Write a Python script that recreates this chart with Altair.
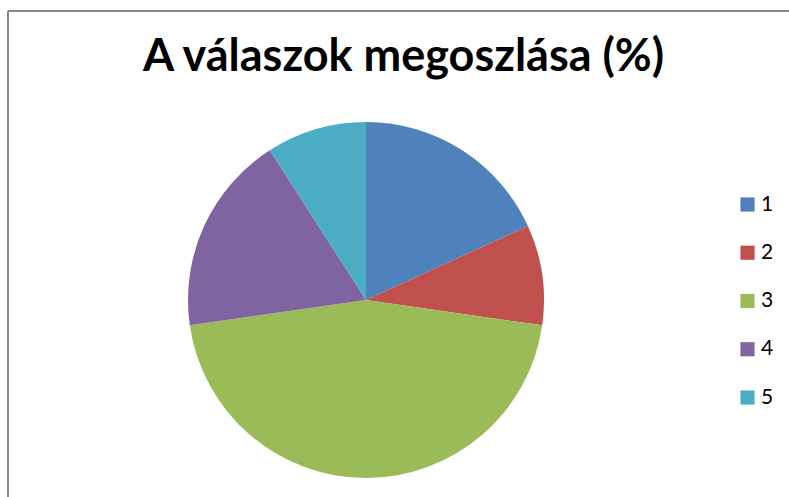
import altair as alt
import pandas as pd

categories = ["1", "2", "3", "4", "5"]
values = [18.18, 9.09, 45.45, 18.18, 9.09]
colors = ["#4F81BD", "#C0504D", "#9BBB59", "#8064A2", "#4BACC6"]

df = pd.DataFrame({"cat": categories, "val": values, "order": list(range(len(categories)))})

pie = alt.Chart(df).mark_arc(outerRadius=178, stroke="white", strokeWidth=0).encode(
    theta=alt.Theta("val:Q", stack=True),
    order=alt.Order("order:Q"),
    color=alt.Color(
        "cat:N",
        scale=alt.Scale(domain=categories, range=colors),
        legend=alt.Legend(
            title=None,
            orient="none",
            legendX=737,
            legendY=194,
            symbolType="square",
            symbolSize=200,
            symbolStrokeWidth=0,
            labelFontSize=21,
            labelFont="Lato",
            labelColor="#000000",
            rowPadding=26.25,
            labelOffset=3,
        ),
    ),
    x=alt.value(366),
    y=alt.value(300),
)

border_left = alt.Chart(df).mark_rule(color="#888888", strokeWidth=2).encode(
    x=alt.value(8), y=alt.value(11), y2=alt.value(497)
)
border_top = alt.Chart(df).mark_rule(color="#888888", strokeWidth=2).encode(
    x=alt.value(8), x2=alt.value(789), y=alt.value(11)
)

chart = alt.layer(border_left, border_top, pie).properties(
    width=789,
    height=497,
    autosize=alt.AutoSizeParams(type="none"),
    padding=0,
    title=alt.TitleParams(
        "A válaszok megoszlása (%)",
        font="Lato",
        fontSize=45,
        fontWeight="bold",
        color="#000000",
        anchor="middle",
        dx=9,
        dy=120,
        baseline="alphabetic",
    ),
).configure_view(stroke=None)

chart.save("out.html", embed_options={"renderer": "svg", "actions": False})
